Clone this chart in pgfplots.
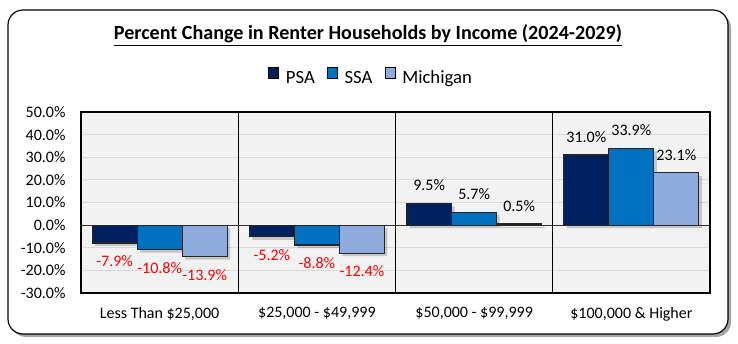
\documentclass[border=0pt]{standalone}
\usepackage{fontspec}
\setmainfont{Carlito}
\usepackage{pgfplots}
\usepackage{pgfplotstable}
\pgfplotsset{compat=1.18}
\definecolor{psa}{HTML}{002060}
\definecolor{ssa}{HTML}{0070C0}
\definecolor{mich}{HTML}{8FAADC}
\definecolor{plotbg}{HTML}{F2F2F2}
\definecolor{gridc}{HTML}{D9D9D9}
\pgfplotstableread{
x psa ssa mich
0.5 -7.9 -10.8 -13.9
1.5 -5.2 -8.8 -12.4
2.5 9.5 5.7 0.5
3.5 31.0 33.9 23.1
}\datatable
\pgfplotsset{
  vlabels/.style={
    nodes near coords={\pgfmathfloatifflags{\pgfplotspointmeta}{2}{\color{red}}{}\pgfmathprintnumber[fixed,fixed zerofill,precision=1]{\pgfplotspointmeta}\%},
    every node near coord/.append style={font=\fontsize{16}{19.2}\selectfont, inner xsep=0pt, inner ysep=12pt},
  },
  shadowbar/.style={forget plot, fill=black, fill opacity=0.18, draw=none, xshift=3pt, yshift=-3pt},
}
\begin{document}
\begin{tikzpicture}[font=\fontsize{16}{19.2}\selectfont]
\useasboundingbox (0pt,0pt) rectangle (738pt,344pt);
\fill[black!35, rounded corners=15pt] (11pt,7pt) rectangle (731pt,331pt);
\draw[fill=white, rounded corners=15pt, line width=1.2pt] (8pt,10pt) rectangle (728pt,334pt);
\node[anchor=base, font=\bfseries\fontsize{20.1}{24}\selectfont] at (368pt,304pt) {\underline{Percent Change in Renter Households by Income (2024-2029)}};
\begin{axis}[
  at={(81pt,51pt)}, anchor=south west,
  scale only axis, width=629pt, height=181pt,
  xmin=0, xmax=4, ymin=-30, ymax=50,
  /pgf/number format/assume math mode=true,
  axis background/.style={fill=plotbg},
  axis line style={black, line width=1.1pt},
  xtick={0.5,1.5,2.5,3.5},
  xticklabels={{Less Than \$25,000}, {\$25,000 - \$49,999}, {\$50,000 - \$99,999}, {\$100,000 \& Higher}},
  ytick={-30,-20,...,50},
  yticklabel={\pgfmathprintnumber[fixed,fixed zerofill,precision=1]{\tick}\%},
  major tick length=0pt,
  ymajorgrids=true,
  major grid style={gridc, line width=1.2pt},
  extra x ticks={1,2,3}, extra x tick labels={},
  extra x tick style={grid=major, major grid style={black, line width=1pt}},
  extra y ticks={0}, extra y tick labels={},
  extra y tick style={grid=major, major grid style={black!80, line width=1pt}},
  xticklabel style={yshift=-11pt},
  yticklabel style={xshift=-12pt},
  ybar, bar width=45pt,
  legend columns=-1,
  legend style={at={(0.461,1.193)}, anchor=center, draw=none, fill=none, font=\fontsize{18.7}{22}\selectfont,
    /tikz/every odd column/.append style={column sep=5pt},
    /tikz/every even column/.append style={column sep=10pt}},
  legend image code/.code={\draw[#1, draw=black, line width=0.8pt] (0pt,0pt) rectangle (10pt,11pt);},
]
\addplot[shadowbar, bar shift=-45pt] table[x=x,y=psa] {\datatable};
\addplot[shadowbar, bar shift=0pt] table[x=x,y=ssa] {\datatable};
\addplot[shadowbar, bar shift=45pt] table[x=x,y=mich] {\datatable};
\addplot[vlabels, fill=psa, draw=black!85, line width=1.2pt, bar shift=-45pt] table[x=x,y=psa] {\datatable};
\addplot[vlabels, fill=ssa, draw=black!85, line width=1.2pt, bar shift=0pt] table[x=x,y=ssa] {\datatable};
\addplot[vlabels, fill=mich, draw=black!85, line width=1.2pt, bar shift=45pt] table[x=x,y=mich] {\datatable};
\legend{PSA, SSA, Michigan}
\end{axis}
\end{tikzpicture}
\end{document}
